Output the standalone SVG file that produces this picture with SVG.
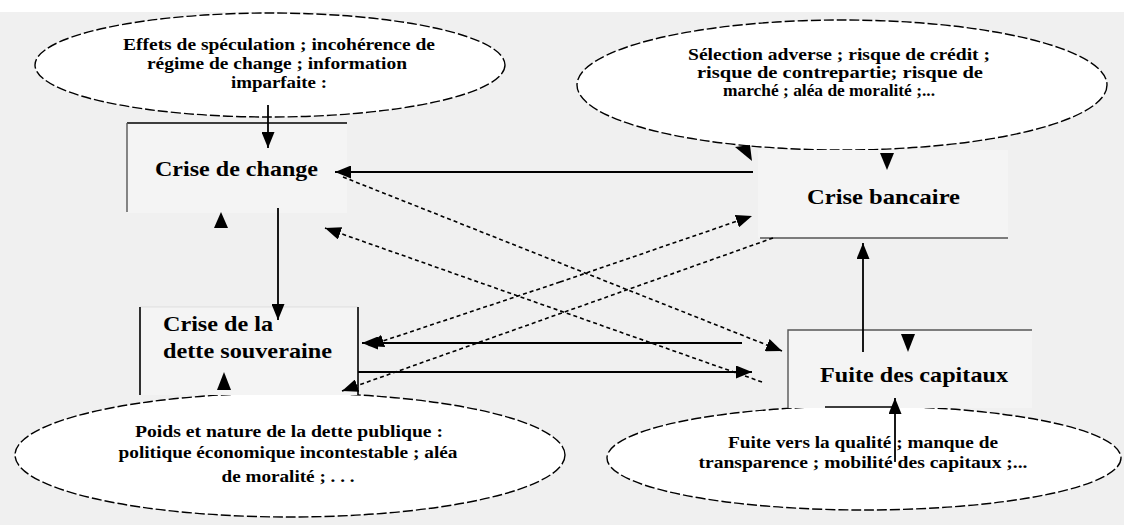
<svg xmlns="http://www.w3.org/2000/svg" width="1124" height="528" viewBox="0 0 1124 528">
  <style>
    .bg { fill: #f0f0f0; }
    .bubble { fill: #ffffff; stroke: #000; stroke-width: 1.4; stroke-dasharray: 10 3; }
    .box { fill: #f4f4f4; stroke: none; }
    .edge { stroke: #555; stroke-width: 1.4; fill: none; }
    .edge-dark { stroke: #000; stroke-width: 1.6; fill: none; }
    .note { font-family: "Liberation Serif", "Times New Roman", serif; font-size: 16px; font-weight: bold; fill: #000; text-anchor: middle; }
    .label { font-family: "Liberation Serif", "Times New Roman", serif; font-size: 21px; font-weight: bold; fill: #000; }
    .solid { stroke: #000; stroke-width: 1.8; fill: none; }
    .dash { stroke: #000; stroke-width: 1.6; fill: none; stroke-dasharray: 4 3; }
    .head { fill: #000; }
  </style>
  <defs>
    <marker id="ah" viewBox="0 0 16 13" refX="16" refY="6.5" markerWidth="16" markerHeight="13" markerUnits="userSpaceOnUse" orient="auto">
      <path d="M0,0 L16,6.5 L0,13 z" fill="#000"/>
    </marker>
  </defs>

  <rect class="bg" x="0" y="12" width="1124" height="513"/>

  <!-- causes: dashed bubbles -->
  <g id="causes-change">
    <ellipse class="bubble" cx="270" cy="65" rx="235" ry="52"/>
    <text class="note" x="279" y="50" textLength="312" lengthAdjust="spacingAndGlyphs">Effets de spéculation ; incohérence de</text>
    <text class="note" x="277" y="69" textLength="260" lengthAdjust="spacingAndGlyphs">régime de change ; information</text>
    <text class="note" x="279" y="88" textLength="96" lengthAdjust="spacingAndGlyphs">imparfaite :</text>
  </g>

  <g id="causes-bancaire">
    <ellipse class="bubble" cx="842" cy="85" rx="265" ry="65"/>
    <text class="note" x="839" y="60" textLength="302" lengthAdjust="spacingAndGlyphs">Sélection adverse ; risque de crédit ;</text>
    <text class="note" x="840" y="78" textLength="286" lengthAdjust="spacingAndGlyphs">risque de contrepartie; risque de</text>
    <text class="note" x="829" y="96" textLength="212" lengthAdjust="spacingAndGlyphs">marché ; aléa de moralité ;...</text>
  </g>

  <g id="causes-dette">
    <ellipse class="bubble" cx="290" cy="455" rx="275" ry="62"/>
    <text class="note" x="289" y="437" textLength="308" lengthAdjust="spacingAndGlyphs">Poids et nature de la dette publique :</text>
    <text class="note" x="288" y="458" textLength="339" lengthAdjust="spacingAndGlyphs">politique économique incontestable ; aléa</text>
    <text class="note" x="288" y="482" textLength="133" lengthAdjust="spacingAndGlyphs">de moralité ; . . .</text>
  </g>

  <g id="causes-fuite">
    <ellipse class="bubble" cx="864" cy="458" rx="257" ry="52"/>
    <text class="note" x="863" y="448" textLength="270" lengthAdjust="spacingAndGlyphs">Fuite vers la qualité ; manque de</text>
    <text class="note" x="863" y="468" textLength="329" lengthAdjust="spacingAndGlyphs">transparence ; mobilité des capitaux ;...</text>
  </g>

  <!-- crisis boxes -->
  <g id="crise-change">
    <rect class="box" x="127" y="123" width="220" height="90"/>
    <path class="edge-dark" d="M127,123 H347"/>
    <path class="edge" d="M127,123 V212"/>
    <text class="label" x="155" y="176" textLength="163" lengthAdjust="spacingAndGlyphs">Crise de change</text>
  </g>

  <g id="crise-bancaire">
    <rect class="box" x="758" y="150" width="250" height="88"/>
    <path class="edge" d="M760,238 H1008"/>
    <text class="label" x="807" y="204" textLength="153" lengthAdjust="spacingAndGlyphs">Crise bancaire</text>
  </g>

  <g id="crise-dette">
    <rect class="box" x="140" y="307" width="218" height="88"/>
    <path class="edge-dark" d="M140,307 V395 M358,307 V395"/>
    <path class="edge" d="M140,307 H358" stroke-opacity="0.08"/>
    <text class="label" x="163" y="331" textLength="110" lengthAdjust="spacingAndGlyphs">Crise de la</text>
    <text class="label" x="163" y="358" textLength="169" lengthAdjust="spacingAndGlyphs">dette souveraine</text>
  </g>

  <g id="fuite-capitaux">
    <rect class="box" x="788" y="330" width="244" height="78"/>
    <path class="edge" d="M788,408 V330 H1032"/>
    <path class="edge-dark" d="M825,407 H895"/>
    <text class="label" x="820" y="382" textLength="188" lengthAdjust="spacingAndGlyphs">Fuite des capitaux</text>
  </g>

  <!-- connectors -->
  <g id="connectors">
    <!-- solid arrows -->
    <path class="solid" d="M268,105 V148" marker-end="url(#ah)"/>
    <path class="solid" d="M753,172 H335" marker-end="url(#ah)"/>
    <path class="solid" d="M278,208 V320" marker-end="url(#ah)"/>
    <path class="solid" d="M742,343 H362" marker-end="url(#ah)"/>
    <path class="solid" d="M358,372 H752" marker-end="url(#ah)"/>
    <path class="solid" d="M863,352 V243" marker-end="url(#ah)"/>
    <path class="solid" d="M895,462 V398" marker-end="url(#ah)"/>

    <!-- dashed arrows -->
    <path class="dash" d="M343,177 L782,351" marker-end="url(#ah)"/>
    <path class="dash" d="M762,382 L325,228" marker-end="url(#ah)"/>
    <path class="dash" d="M560,282 L752,216" marker-end="url(#ah)"/>
    <path class="dash" d="M560,282 L368,346" marker-end="url(#ah)"/>
    <path class="dash" d="M773,238 L342,391" marker-end="url(#ah)"/>

    <!-- arrowheads entering boxes from the bubbles -->
    <polygon class="head" points="735,147 750,145 752,161"/>
    <polygon class="head" points="880,153 894,153 887,170"/>
    <polygon class="head" points="901,334 915,334 908,352"/>
    <polygon class="head" points="214,228 228,228 221,212"/>
    <polygon class="head" points="217,390 231,390 224,372"/>
  </g>
</svg>
